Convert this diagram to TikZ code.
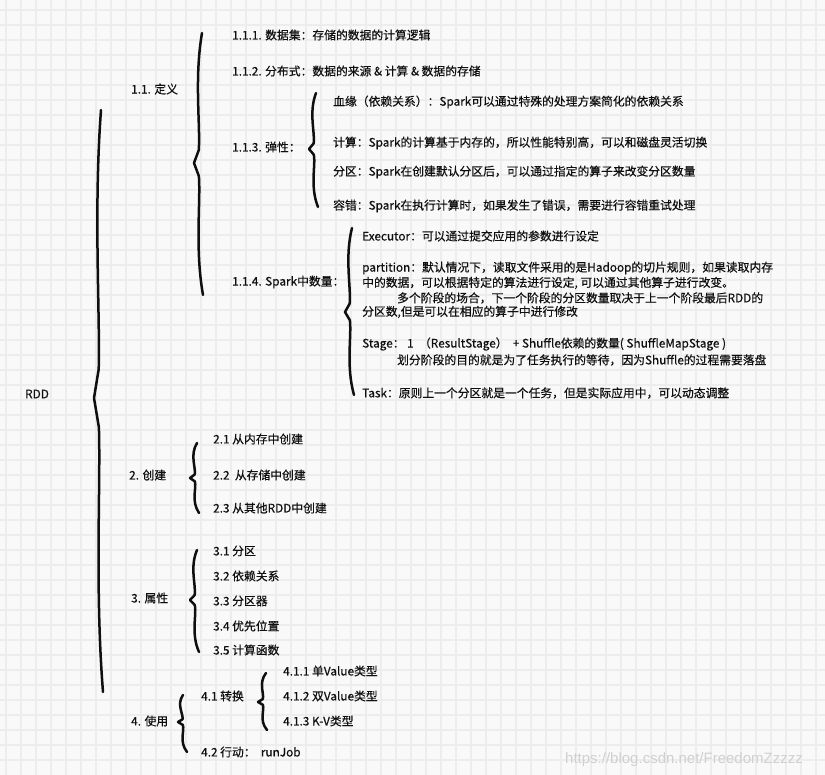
\documentclass[tikz,border=0pt]{standalone}
\usepackage{fontspec}
\setmainfont{Noto Sans CJK SC}[FakeBold=0.4]
\newfontfamily\markfont{Liberation Sans}
\usetikzlibrary{calc}
\definecolor{PaperWhite}{RGB}{249,249,249}
\definecolor{GridGrey}{RGB}{237,237,237}
\definecolor{InkBlack}{RGB}{15,15,15}
\definecolor{MarkGrey}{RGB}{208,208,208}

\tikzset{
  leaf/.style={anchor=west, inner sep=0pt, text=InkBlack, font=\fontsize{11.8}{14}\selectfont},
  curly/.style={draw=InkBlack, line width=2.5pt, line cap=round, line join=round},
  gridline/.style={draw=GridGrey, line width=1.4pt}
}

% hand drawn brace: top, notch, bottom
\newcommand{\handbrace}[3]{%
  \draw[curly] (#1) .. controls ($(#1)!0.35!(#2)+(-5,0)$) and ($(#1)!0.7!(#2)+(4,0)$) .. ($(#1)!0.9!(#2)+(4,0)$)
    -- (#2) -- ($(#3)!0.9!(#2)+(4,0)$)
    .. controls ($(#3)!0.7!(#2)+(4,0)$) and ($(#3)!0.35!(#2)+(-5,0)$) .. (#3);}

\begin{document}
\begin{tikzpicture}[x=1pt, y=-1pt]
    \useasboundingbox (0,0) rectangle (825,775);
    % Paper and grid
    \fill[PaperWhite] (0,0) rectangle (825,775);
    \foreach \gx in {6,21,...,816} \draw[gridline] (\gx,0) -- (\gx,775);
    \foreach \gy in {10,25,...,770} \draw[gridline] (0,\gy) -- (825,\gy);

    % Root
    \node[leaf] (rdd) at (25,394) {RDD};

    % 1.1 definition
    \node[leaf] (def) at (131,89) {1.1. 定义};
    \node[leaf] (def1) at (232,35) {1.1.1. 数据集：存储的数据的计算逻辑};
    \node[leaf] (def2) at (232,71) {1.1.2. 分布式：数据的来源 \& 计算 \& 数据的存储};
    \node[leaf] (def3) at (232,147) {1.1.3. 弹性：};
    \node[leaf] (el1) at (333,102) {血缘（依赖关系）：Spark可以通过特殊的处理方案简化的依赖关系};
    \node[leaf] (el2) at (333,143) {计算：Spark的计算基于内存的，所以性能特别高，可以和磁盘灵活切换};
    \node[leaf] (el3) at (333,172) {分区：Spark在创建默认分区后，可以通过指定的算子来改变分区数量};
    \node[leaf] (el4) at (333,206) {容错：Spark在执行计算时，如果发生了错误，需要进行容错重试处理};
    \node[leaf] (def4) at (232,282) {1.1.4. Spark中数量：};
    \node[leaf] (num1) at (362,236) {Executor：可以通过提交应用的参数进行设定};
    \node[leaf] (num2a) at (362,268) {partition：默认情况下，读取文件采用的是Hadoop的切片规则，如果读取内存};
    \node[leaf] (num2b) at (362,283) {中的数据，可以根据特定的算法进行设定, 可以通过其他算子进行改变。};
    \node[leaf] (num2c) at (397,298) {多个阶段的场合，下一个阶段的分区数量取决于上一个阶段最后RDD的};
    \node[leaf] (num2d) at (362,312) {分区数,但是可以在相应的算子中进行修改};
    \node[leaf] (num3a) at (362,344) {Stage：\ 1 \ （ResultStage） \ + Shuffle依赖的数量( ShuffleMapStage )};
    \node[leaf] (num3b) at (397,360) {划分阶段的目的就是为了任务执行的等待，因为Shuffle的过程需要落盘};
    \node[leaf] (num4) at (362,393) {Task：原则上一个分区就是一个任务，但是实际应用中，可以动态调整};

    % 2. create
    \node[leaf] (create) at (129,475) {2. 创建};
    \node[leaf] (c1) at (213,439) {2.1 从内存中创建};
    \node[leaf] (c2) at (213,475) {2.2 \ 从存储中创建};
    \node[leaf] (c3) at (213,508) {2.3 从其他RDD中创建};

    % 3. attributes
    \node[leaf] (attr) at (131,598) {3. 属性};
    \node[leaf] (a1) at (213,551) {3.1 分区};
    \node[leaf] (a2) at (213,576) {3.2 依赖关系};
    \node[leaf] (a3) at (213,601) {3.3 分区器};
    \node[leaf] (a4) at (213,626) {3.4 优先位置};
    \node[leaf] (a5) at (213,650) {3.5 计算函数};

    % 4. usage
    \node[leaf] (use) at (131,721) {4. 使用};
    \node[leaf] (u1) at (201,696) {4.1 转换};
    \node[leaf] (u11) at (283,671) {4.1.1 单Value类型};
    \node[leaf] (u12) at (283,696) {4.1.2 双Value类型};
    \node[leaf] (u13) at (283,721) {4.1.3 K-V类型};
    \node[leaf] (u2) at (201,752) {4.2 行动： \ runJob};

    % Brace ends
    \coordinate (rddT) at (101,110);  \coordinate (rddM) at (94,398);  \coordinate (rddB) at (103,692);
    \coordinate (defT) at (202,33);   \coordinate (defM) at (194,163); \coordinate (defB) at (203,295);
    \coordinate (elT) at (316,93);    \coordinate (elM) at (309,149);  \coordinate (elB) at (318,207);
    \coordinate (numT) at (352,228);  \coordinate (numM) at (345,312); \coordinate (numB) at (354,395);
    \coordinate (crT) at (197,443);   \coordinate (crM) at (190,478);  \coordinate (crB) at (199,513);
    \coordinate (atT) at (197,550);   \coordinate (atM) at (190,600);  \coordinate (atB) at (199,652);
    \coordinate (usT) at (183,695);   \coordinate (usM) at (178,722);  \coordinate (usB) at (187,752);
    \coordinate (trT) at (266,673);   \coordinate (trM) at (258,702);  \coordinate (trB) at (267,730);

    % Braces
    \handbrace{rddT}{rddM}{rddB}
    \handbrace{defT}{defM}{defB}
    \handbrace{elT}{elM}{elB}
    \handbrace{numT}{numM}{numB}
    \handbrace{crT}{crM}{crB}
    \handbrace{atT}{atM}{atB}
    \handbrace{usT}{usM}{usB}
    \handbrace{trT}{trM}{trB}

    % Watermark
    \node[anchor=west, inner sep=0pt, text=MarkGrey, font=\markfont\fontsize{15}{17}\selectfont] (mark) at (565,760) {https://blog.csdn.net/FreedomZzzzz};
\end{tikzpicture}
\end{document}
